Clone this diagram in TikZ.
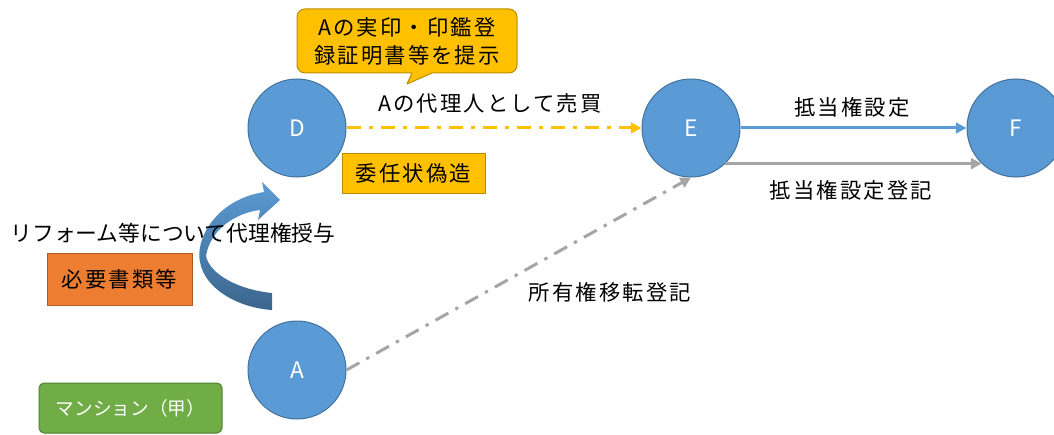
\documentclass[tikz,border=0pt]{standalone}
\usepackage{fontspec}
\setmainfont{Noto Sans CJK JP}
\newfontfamily\jpls[LetterSpace=10]{Noto Sans CJK JP}
\usetikzlibrary{arrows.meta}
\definecolor{cblue}{HTML}{5B9BD5}
\definecolor{cbluedk}{HTML}{41719C}
\definecolor{cgold}{HTML}{FFC000}
\definecolor{cgolddk}{HTML}{BC8C00}
\definecolor{corange}{HTML}{ED7D31}
\definecolor{corangedk}{HTML}{AE5A21}
\definecolor{cgreen}{HTML}{70AD47}
\definecolor{cgreendk}{HTML}{507E32}
\definecolor{cgray}{HTML}{A5A5A5}
\newcommand\pxu{0.75pt}
\begin{document}
\begin{tikzpicture}[x=0.75pt,y=-0.75pt,
  party/.style={circle, fill=cblue, draw=cbluedk, line width=0.75pt,
    minimum size=98*\pxu, inner sep=0pt, text=white,
    font=\fontsize{17}{20}\selectfont},
  lbl/.style={inner sep=0pt, font=\jpls\fontsize{16}{19}\selectfont},
  box/.style={draw, line width=0.75pt, inner sep=0pt,
    font=\jpls\fontsize{16}{19}\selectfont},
  conn/.style={line width=2.25pt},
  tip/.style={-{Triangle[length=8pt,width=8pt]}},
  dashdot/.style={dash pattern=on 11pt off 6pt on 2.5pt off 6pt}
]
\useasboundingbox (0,0) rectangle (1054,435);

% parties
\node[party] (D) at (297,128) {D};
\node[party] (E) at (691,128) {E};
\node[party] (F) at (1016,128) {F};
\node[party] (A) at (297,370) {A};

% callout
\node[box, fill=cgold, draw=cgolddk, rounded corners=8*\pxu,
  minimum width=220*\pxu, minimum height=64*\pxu, align=center,
  font=\jpls\fontsize{16}{21}\selectfont] (co) at (407,41)
  {Aの実印・印鑑登\\録証明書等を提示};
\fill[cgold] (412,70) -- (412,73) -- (407,84) -- (432,73) -- (432,70) -- cycle;
\draw[cgolddk, line width=0.75pt, line join=round] (412,73) -- (407,84) -- (432,73);

% boxes
\node[box, fill=cgold, draw=cgolddk, minimum width=143*\pxu,
  minimum height=39*\pxu] (forge) at (413.5,173.5) {委任状偽造};
\node[box, fill=corange, draw=corangedk, minimum width=145*\pxu,
  minimum height=52*\pxu] (docs) at (119.5,279) {必要書類等};
\node[box, fill=cgreen, draw=cgreendk, rounded corners=5*\pxu,
  minimum width=183*\pxu, minimum height=50*\pxu, text=white,
  font=\fontsize{14}{16}\selectfont] (mansion) at (130.5,408) {マンション（甲）};

% curved arrow (A grants authority to D)
\shade[top color=cblue, bottom color=cbluedk!90!black]
  (272,310) .. controls (240,308) and (205,290) .. (200,262)
  .. controls (195,240) and (215,200) .. (264,192)
  -- (262,182) -- (280,200) -- (258,220) -- (260,210)
  .. controls (235,213) and (210,230) .. (206,256)
  .. controls (210,275) and (240,290) .. (272,293) -- cycle;

% connectors
\draw[conn, tip, cgold, dashdot] (D.east) -- (E.west);
\draw[conn, tip, cblue] (E.east) -- (F.west);
\draw[conn, tip, cgray] (E.-46) -- (F.-134);
\draw[conn, tip, cgray, dashdot] (A.east) -- (E.south);

% labels
\node[lbl] (l1) at (490,103) {Aの代理人として売買};
\node[lbl] (l2) at (852,107) {抵当権設定};
\node[lbl] (l3) at (851,190) {抵当権設定登記};
\node[lbl] (l4) at (610,292) {所有権移転登記};
\node[inner sep=0pt, font=\fontsize{16.3}{19}\selectfont] (l5) at (173,233)
  {リフォーム等について代理権授与};
\end{tikzpicture}
\end{document}
